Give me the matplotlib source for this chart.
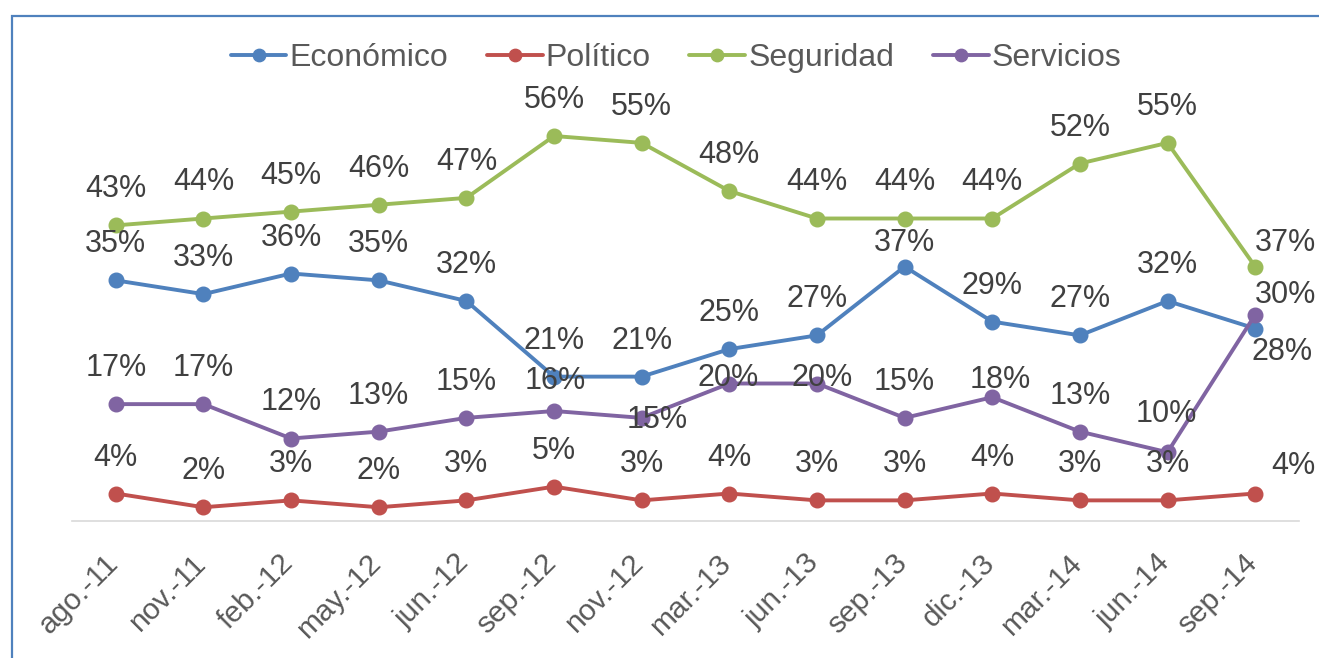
import matplotlib.pyplot as plt
from matplotlib.patches import Rectangle
from matplotlib.transforms import ScaledTranslation

# data
fechas = ["ago.-11", "nov.-11", "feb.-12", "may.-12", "jun.-12", "sep.-12", "nov.-12",
          "mar.-13", "jun.-13", "sep.-13", "dic.-13", "mar.-14", "jun.-14", "sep.-14"]
economico = [35, 33, 36, 35, 32, 21, 21, 25, 27, 37, 29, 27, 32, 28]
politico = [4, 2, 3, 2, 3, 5, 3, 4, 3, 3, 4, 3, 3, 4]
seguridad = [43, 44, 45, 46, 47, 56, 55, 48, 44, 44, 44, 52, 55, 37]
servicios = [17, 17, 12, 13, 15, 16, 15, 20, 20, 15, 18, 13, 10, 30]

series = [("Económico", economico, "#4F81BD"),
          ("Político", politico, "#C0504D"),
          ("Seguridad", seguridad, "#9BBB59"),
          ("Servicios", servicios, "#8064A2")]

# label offsets in pixels (dx, dy); default is straight above
default_off = (0, 36)
special = {
    "Económico": {9: (0, 24), 13: (27, -24)},
    "Político": {13: (38, 27)},
    "Seguridad": {13: (30, 24)},
    "Servicios": {5: (1, 30), 6: (16, -2), 7: (-1, 5), 8: (5, 5), 10: (8, 17), 12: (-1, 38), 13: (30, 20)},
}

plt.rcParams['font.family'] = ['Liberation Sans', 'DejaVu Sans']

fig = plt.figure(figsize=(13.19, 6.58), dpi=100)
ax = fig.add_axes([72 / 1319, (658 - 521) / 658, (1299 - 72) / 1319, (521 - 108.5) / 658])

x = list(range(len(fechas)))
for name, vals, col in series:
    yv = [v / 100 for v in vals]
    ax.plot(x, yv, color=col, lw=2.8, marker='o', markersize=10.5, label=name,
            solid_capstyle='round', zorder=3)
    for i, v in enumerate(vals):
        dx, dy = special.get(name, {}).get(i, default_off)
        ax.annotate(f"{v}%", (i, v / 100), xytext=(dx, dy), textcoords='offset pixels',
                    ha='center', va='center', fontsize=22, color='#404040', zorder=4)

ax.set_xlim(-0.5, len(fechas) - 0.5)
ax.set_ylim(0, 0.6)
ax.set_yticks([])
ax.set_xticks(x)
ax.set_xticklabels(fechas, rotation=45, ha='right', va='center', rotation_mode='anchor',
                   fontsize=21.5, color='#595959')
ax.tick_params(axis='x', length=0, pad=27)
shift = ScaledTranslation(-2 / 100, 0, fig.dpi_scale_trans)
for lab in ax.get_xticklabels():
    lab.set_transform(lab.get_transform() + shift)
for s in ['top', 'right', 'left']:
    ax.spines[s].set_visible(False)
ax.spines['bottom'].set_color('#D9D9D9')
ax.spines['bottom'].set_linewidth(1.2)
ax.patch.set_alpha(0)

leg = fig.legend(loc='center', bbox_to_anchor=(676 / 1319, 1 - 58 / 658), ncol=4,
                 frameon=False, fontsize=23, handlelength=1.75, handletextpad=0.1,
                 columnspacing=1.2, labelcolor='#595959', markerscale=0.85)

# outer blue frame
fig.add_artist(Rectangle((12 / 1319, -0.05), 1.1, 1 - 16 / 658 + 0.05, transform=fig.transFigure,
                         fill=False, edgecolor='#4F81BD', lw=1.6, clip_on=False))

fig.savefig("out.png", dpi=100)
